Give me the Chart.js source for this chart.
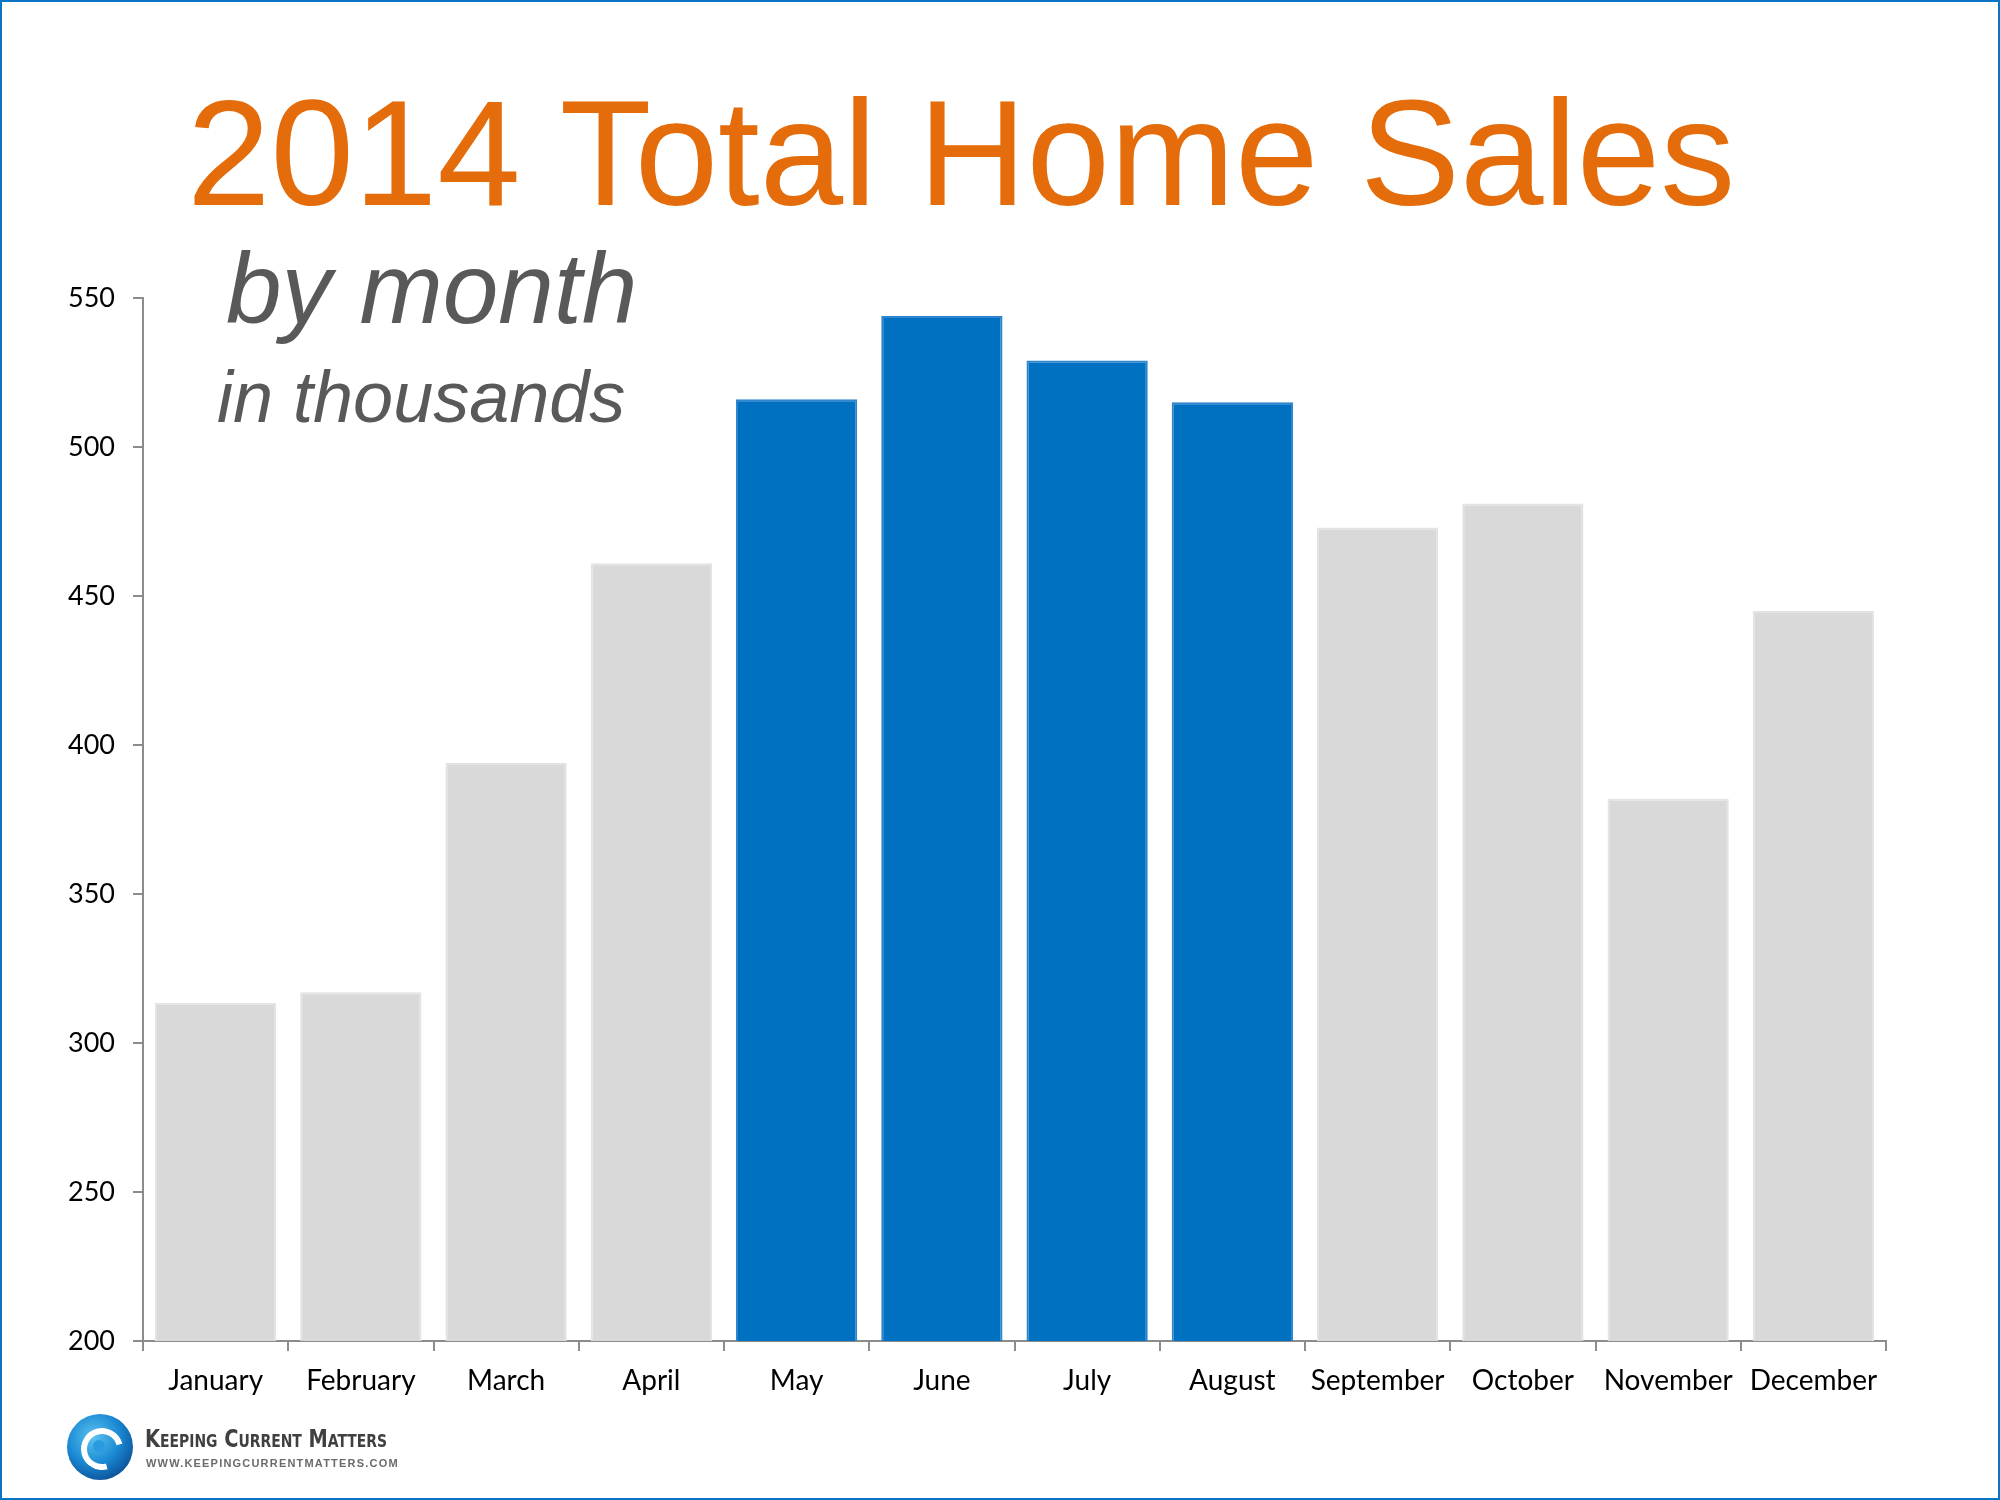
<!DOCTYPE html>
<html>
<head>
<meta charset="utf-8">
<title>2014 Total Home Sales</title>
<script src="https://cdn.jsdelivr.net/npm/chart.js@4/dist/chart.umd.min.js"></script>
<style>
  html, body { margin: 0; padding: 0; background: #fff; }
  #page {
    position: relative;
    width: 2000px;
    height: 1500px;
    overflow: hidden;
    background: #fff;
  }
  #frame {
    position: absolute;
    left: 0; top: 0;
    width: 1996px; height: 1496px;
    border: 2px solid #0b74c4;
    pointer-events: none;
  }
  #chart { position: absolute; left: 0; top: 0; }
  .txt { position: absolute; white-space: nowrap; line-height: 1; }
  #title {
    left: 187px; top: 67px;
    font: 150px "Liberation Sans", Arial, sans-serif;
    color: #e46c0a;
  }
  #sub1 {
    left: 226px; top: 231px;
    font: italic 100px "Liberation Sans", Arial, sans-serif;
    color: #595959;
  }
  #sub2 {
    left: 217px; top: 356px;
    font: italic 72px "Liberation Sans", Arial, sans-serif;
    color: #595959;
  }
  #logo {
    position: absolute;
    left: 67px; top: 1414px;
    width: 66px; height: 66px;
    border-radius: 50%;
    background: radial-gradient(circle at 40% 35%, #5fc3f0 0%, #1a8ad4 45%, #0b4f96 80%, #08386e 100%);
  }
  #logo .ring {
    position: absolute;
    left: 14px; top: 14px;
    width: 30px; height: 30px;
    border-radius: 50%;
    border: 6px solid #fff;
    border-right-color: transparent;
    transform: rotate(30deg);
  }
  #logo .dot {
    position: absolute;
    left: 26px; top: 26px;
    width: 12px; height: 12px;
    border-radius: 50%;
    background: #2b9be0;
  }
  #brand {
    left: 145px; top: 1424px;
    font: bold 25px "Liberation Sans Narrow", "DejaVu Sans Condensed", sans-serif;
    font-variant: small-caps;
    color: #404040;
    transform: scaleX(0.86);
    transform-origin: left top;
  }
  #url {
    left: 146px; top: 1457px;
    font: bold 11px "Liberation Sans", Arial, sans-serif;
    color: #6b6b6b;
    letter-spacing: 1.2px;
  }
</style>
</head>
<body>
<div id="page">
  <canvas id="chart" width="2000" height="1500"></canvas>
  <div class="txt" id="title">2014 Total Home Sales</div>
  <div class="txt" id="sub1">by month</div>
  <div class="txt" id="sub2">in thousands</div>
  <div id="logo"><div class="ring"></div><div class="dot"></div></div>
  <div class="txt" id="brand">Keeping Current Matters</div>
  <div class="txt" id="url">WWW.KEEPINGCURRENTMATTERS.COM</div>
  <div id="frame"></div>
</div>
<script>
const months = ["January", "February", "March", "April", "May", "June",
  "July", "August", "September", "October", "November", "December"];

// total home sales, thousands
const sales = [313.5, 317, 394, 461, 516, 544, 529, 515, 473, 481, 382, 445];

// summer months shown in blue
const highlighted = ["May", "June", "July", "August"];

const yMin = 200;
const yMax = 550;
const yStep = 50;

const blue = "#0070c0";
const blueEdge = "#2f86cf";
const gray = "#d9d9d9";
const grayEdge = "#e3e3e3";
const axisGray = "#8c8c8c";

Chart.defaults.font.family = "Lato, 'Open Sans', sans-serif";
Chart.defaults.color = "#000";

const chartCanvas = document.getElementById("chart");

new Chart(chartCanvas, {
  type: "bar",
  data: {
    labels: months,
    datasets: [
      {
        data: sales,
        backgroundColor: months.map((m) => (highlighted.includes(m) ? blue : gray)),
        borderColor: months.map((m) => (highlighted.includes(m) ? blueEdge : grayEdge)),
        borderWidth: 2,
        barPercentage: 0.835,
        categoryPercentage: 1,
      },
    ],
  },
  options: {
    responsive: false,
    animation: false,
    devicePixelRatio: 1,
    layout: {
      padding: { left: 0, top: 298, right: 114, bottom: 99 },
    },
    plugins: {
      legend: { display: false },
      tooltip: { enabled: false },
    },
    scales: {
      x: {
        grid: {
          drawOnChartArea: false,
          drawTicks: true,
          tickLength: 10,
          color: axisGray,
          lineWidth: 2,
          offset: true,
        },
        border: { display: true, color: axisGray, width: 2 },
        ticks: {
          font: { size: 28 },
          color: "#000",
          padding: 13,
          maxRotation: 0,
          autoSkip: false,
        },
        afterFit: (scale) => {
          scale.height = 60;
        },
      },
      y: {
        min: yMin,
        max: yMax,
        grid: {
          drawOnChartArea: false,
          drawTicks: true,
          tickLength: 10,
          color: axisGray,
          lineWidth: 2,
        },
        border: { display: true, color: axisGray, width: 2 },
        ticks: {
          stepSize: yStep,
          font: { size: 27 },
          color: "#000",
          padding: 18,
        },
        afterFit: (scale) => {
          scale.width = 143;
        },
      },
    },
  },
});
</script>
</body>
</html>
